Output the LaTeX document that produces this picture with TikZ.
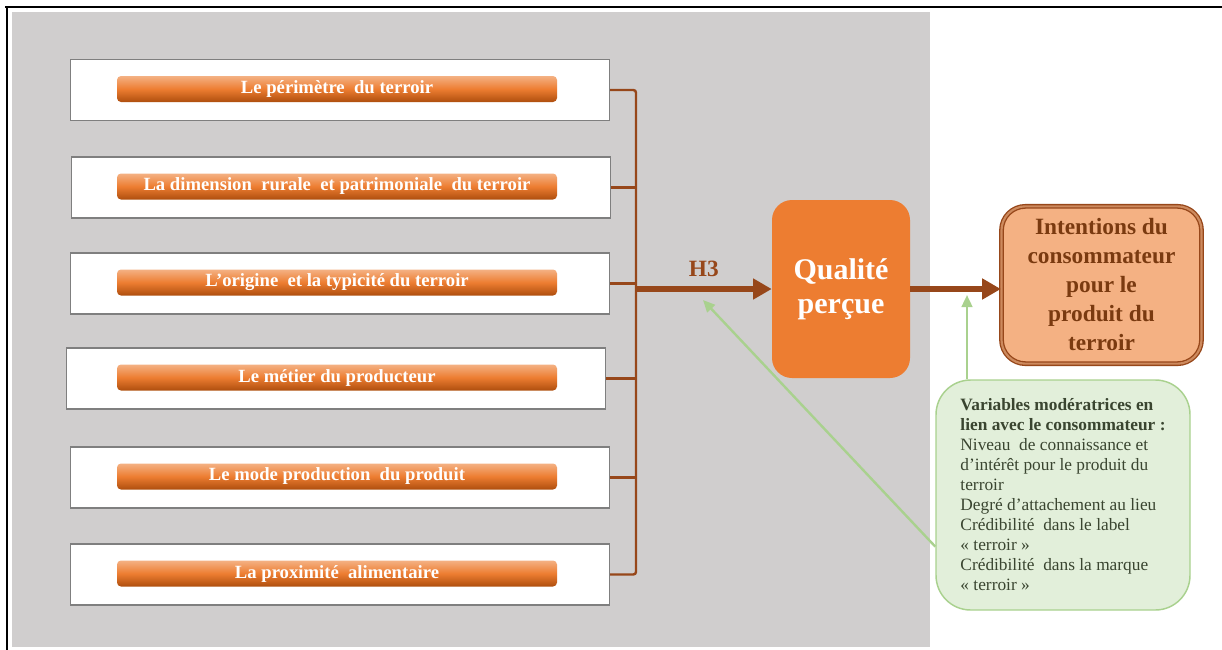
\documentclass[tikz,border=0pt]{standalone}
\usepackage{fontspec}
\setmainfont{Liberation Serif}
\usetikzlibrary{positioning, arrows.meta}

\definecolor{panelgray}{HTML}{D0CECE}
\definecolor{boxline}{HTML}{7F7F7F}
\definecolor{barlight}{HTML}{F4B183}
\definecolor{barmid}{HTML}{ED7D31}
\definecolor{bardark}{HTML}{AE4E0E}
\definecolor{linkbrown}{HTML}{97471A}
\definecolor{qualorange}{HTML}{ED7D31}
\definecolor{intfill}{HTML}{F4B183}
\definecolor{intmid}{HTML}{CD8A5E}
\definecolor{inttext}{HTML}{7A3A10}
\definecolor{modfill}{HTML}{E2EFDA}
\definecolor{modline}{HTML}{A9D18E}
\definecolor{modtext}{HTML}{3A4530}

\begin{document}
\begin{tikzpicture}[
    x=0.75pt, y=-0.75pt,
    itembox/.style={draw=boxline, line width=1.1pt, fill=white, minimum width=404pt, minimum height=45.75pt, inner sep=0pt},
    itembar/.style={rounded corners=3pt, top color=barlight, bottom color=bardark, middle color=barmid,
                    minimum width=330pt, minimum height=19.5pt, inner sep=0pt, text=white,
                    font=\bfseries\fontsize{14}{16}\selectfont},
    link/.style={linkbrown, line width=1.8pt},
    bigarrow/.style={linkbrown, line width=4pt, -{Triangle[length=14pt, width=15pt]}},
    modarrow/.style={modline, line width=1.8pt, -{Triangle[length=9pt, width=8pt]}},
    qualbox/.style={fill=qualorange, rounded corners=15pt, minimum width=103.5pt, minimum height=133.5pt,
                    text=white, align=center, font=\bfseries\fontsize{22.5}{25.5}\selectfont},
    intbox/.style={fill=intfill, draw=linkbrown, line width=1pt, double=intmid, double distance=1.6pt,
                   rounded corners=18pt, minimum width=150pt, minimum height=118pt, text=inttext,
                   align=center, font=\bfseries\fontsize{17.5}{21.75}\selectfont},
    modbox/.style={fill=modfill, draw=modline, line width=1.1pt, rounded corners=26pt,
                   minimum width=190.5pt, minimum height=172.5pt, text=modtext, align=left,
                   font=\fontsize{13}{15}\selectfont}
]

    \useasboundingbox (0,0) rectangle (1222,650);

    % --- FRAME AND GREY PANEL ---
    \draw[line width=0.8pt] (5,7) -- (1222,7);
    \draw[line width=0.8pt] (7,7) -- (7,650);
    \fill[panelgray] (12,12) rectangle (930,647);

    % --- DRAW THE SIX TERROIR DIMENSIONS ---
    \foreach \i/\cx/\cy/\txt in {
        1/340/90/{Le périmètre\ \ du terroir},
        2/341/187.5/{La dimension\ \ rurale\ \ et patrimoniale\ \ du terroir},
        3/340/283.5/{L’origine\ \ et la typicité du terroir},
        4/336/378.5/{Le métier du producteur},
        5/340/477.5/{Le mode production\ \ du produit},
        6/340/574.5/{La proximité\ \ alimentaire}} {
        \node[itembox] (box\i) at (\cx,\cy) {};
        \node[itembar] (bar\i) at (337,\cy-1) {\txt};
    }

    % --- BROWN BUS TOWARDS THE PERCEIVED QUALITY ---
    \coordinate (hub) at (636,289);
    \draw[link, rounded corners=2pt] (box1.east) -| (hub) |- (box6.east);
    \foreach \i in {2,...,5} {
        \draw[link] (box\i.east) -- (box\i.east -| hub);
    }

    % --- QUALITY AND INTENTIONS ---
    \node[qualbox] (qual) at (841,289) {Qualité\\perçue};
    \node[intbox] (int) at (1101.5,285) {Intentions du\\consommateur\\pour le\\produit du\\terroir};

    \draw[bigarrow] (hub) -- (qual.west)
        node[midway, above=4pt, text=linkbrown, font=\bfseries\fontsize{17.5}{20}\selectfont] {H3};
    \draw[bigarrow] (qual.east) -- (qual.east -| int.west);

    % --- MODERATING VARIABLES ---
    \node[modbox] (mod) at (1063,495) {%
        \textbf{Variables modératrices en}\\
        \textbf{lien avec le consommateur :}\\
        Niveau\ \ de connaissance et\\
        d’intérêt pour le produit du\\
        terroir\\
        Degré d’attachement au lieu\\
        Crédibilité\ \ dans le label\\
        « terroir »\\
        Crédibilité\ \ dans la marque\\
        « terroir »};

    \coordinate (tipA) at (703,300);
    \coordinate (tipB) at (967,295);
    \draw[modarrow] (mod.202) -- (tipA);
    \draw[modarrow] (mod.north -| tipB) -- (tipB);

\end{tikzpicture}
\end{document}
